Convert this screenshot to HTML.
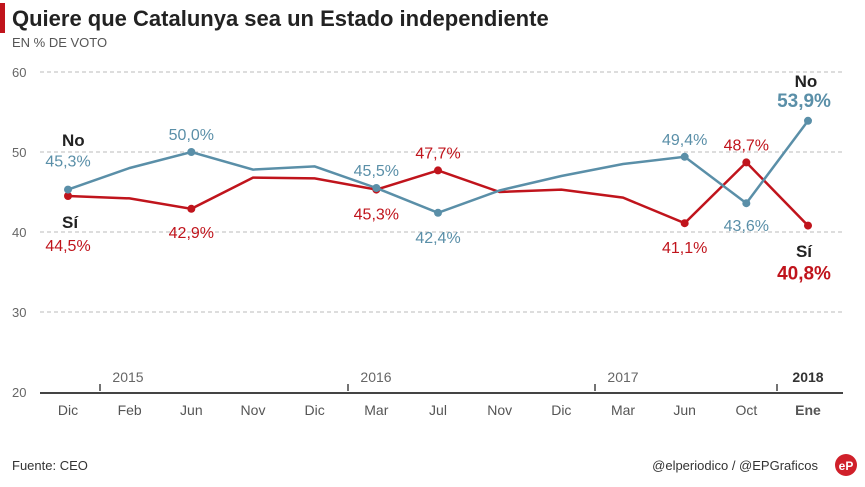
<!DOCTYPE html>
<html><head><meta charset="utf-8"><style>
body{margin:0;background:#fff;width:865px;height:482px;overflow:hidden;font-family:"Liberation Sans",sans-serif}
</style></head><body>
<svg width="865" height="482">
<rect x="0" y="3" width="5" height="30" fill="#c0141c"/>
<text x="12" y="26" font-size="22" font-weight="bold" fill="#222">Quiere que Catalunya sea un Estado independiente</text>
<text x="12" y="47" font-size="13" fill="#555">EN % DE VOTO</text>
<g id="grid"></g><g id="xa"></g><g id="series"></g>
<text x="12" y="470" font-size="13" fill="#333">Fuente: CEO</text>
<text x="818" y="470" font-size="13" fill="#333" text-anchor="end">@elperiodico / @EPGraficos</text>
<circle cx="846" cy="465" r="11" fill="#d0202a"/>
<text x="846" y="470" font-size="12" font-weight="bold" fill="#fff" text-anchor="middle">eP</text>
</svg>
<script>
const categories=["Dic","Feb","Jun","Nov","Dic","Mar","Jul","Nov","Dic","Mar","Jun","Oct","Ene"];
const noValues=[45.3,48.0,50.0,47.8,48.2,45.5,42.4,45.2,47.0,48.5,49.4,43.6,53.9];
const siValues=[44.5,44.2,42.9,46.8,46.7,45.3,47.7,45.0,45.3,44.3,41.1,48.7,40.8];
const yTicks=[20,30,40,50,60];
const years=["2015","2016","2017","2018"];
const labeledIdx=[0,2,5,6,10,11,12];
const NS="http://www.w3.org/2000/svg";
const xPos=[68,127,191,257,315,376,441,507,568,625,686,742,808];
function x(i){return xPos[0]+(xPos[12]-xPos[0])*i/(categories.length-1);}
function y(v){return 392-(v-20)*8;}
function mk(tag,attrs,parent,txt){const e=document.createElementNS(NS,tag);for(const k in attrs)e.setAttribute(k,attrs[k]);if(txt!=null)e.textContent=txt;document.getElementById(parent).appendChild(e);return e;}
yTicks.forEach(t=>{
 if(t>20){const l=mk("line",{x1:40,x2:843,y1:y(t),y2:y(t),stroke:"#bbb","stroke-dasharray":"4,3"},"grid");
 
 }
 const tx=mk("text",{x:12,y:y(t)+5,"font-size":13,fill:"#666"},"grid",t);
 
 
});
const ax=mk("line",{x1:40,x2:843,y1:393,y2:393,stroke:"#444","stroke-width":2},"xa");


categories.forEach((c,i)=>{const t=mk("text",{x:x(i),y:415,"font-size":14,fill:"#555","text-anchor":"middle","font-weight":i==12?"bold":"normal"},"xa",c);
 
 });
const yearX=[100,348,595,777];
years.forEach((yr,i)=>{const tk=mk("line",{x1:yearX[i],x2:yearX[i],y1:384,y2:391,stroke:"#444","stroke-width":1.5},"xa");
 
 
 const t=mk("text",{x:i==3?808:yearX[i]+28,y:382,"font-size":14,fill:i==3?"#333":"#666","text-anchor":"middle","font-weight":i==3?"bold":"normal"},"xa",yr);
 
 });
function fmt(v){return v.toFixed(1).replace(".",",")+"%";}
function series(vals,color,name,offs){
 const p=mk("polyline",{points:vals.map((v,i)=>x(i)+","+y(v)).join(" "),fill:"none",stroke:color,"stroke-width":2.5},"series");
 
 
 labeledIdx.forEach((i,k)=>{const c=mk("circle",{cx:x(i),cy:y(vals[i]),r:4,fill:color},"series");
  
  
  const last=i==12;
  const t=mk("text",{x:x(i)+(last?-4:0),y:y(vals[i])+offs[k],"font-size":last?19:16,"font-weight":last?"bold":"normal",fill:color,"text-anchor":"middle"},"series",fmt(vals[i]));
  
  });
}
series(siValues,"#c0141c","si",[55,29,30,-12,30,-12,54]);
series(noValues,"#5a8fa8","no",[-23,-12,-12,30,-12,28,-14]);
[["No",62,146],["Sí",62,228],["No",806,87],["Sí",804,257]].forEach((d,i)=>{
 const t=mk("text",{x:d[1],y:d[2],"font-size":17,"font-weight":"bold",fill:"#222","text-anchor":i<2?"start":"middle"},"series",d[0]);
 
 
});
</script>
</body></html>
